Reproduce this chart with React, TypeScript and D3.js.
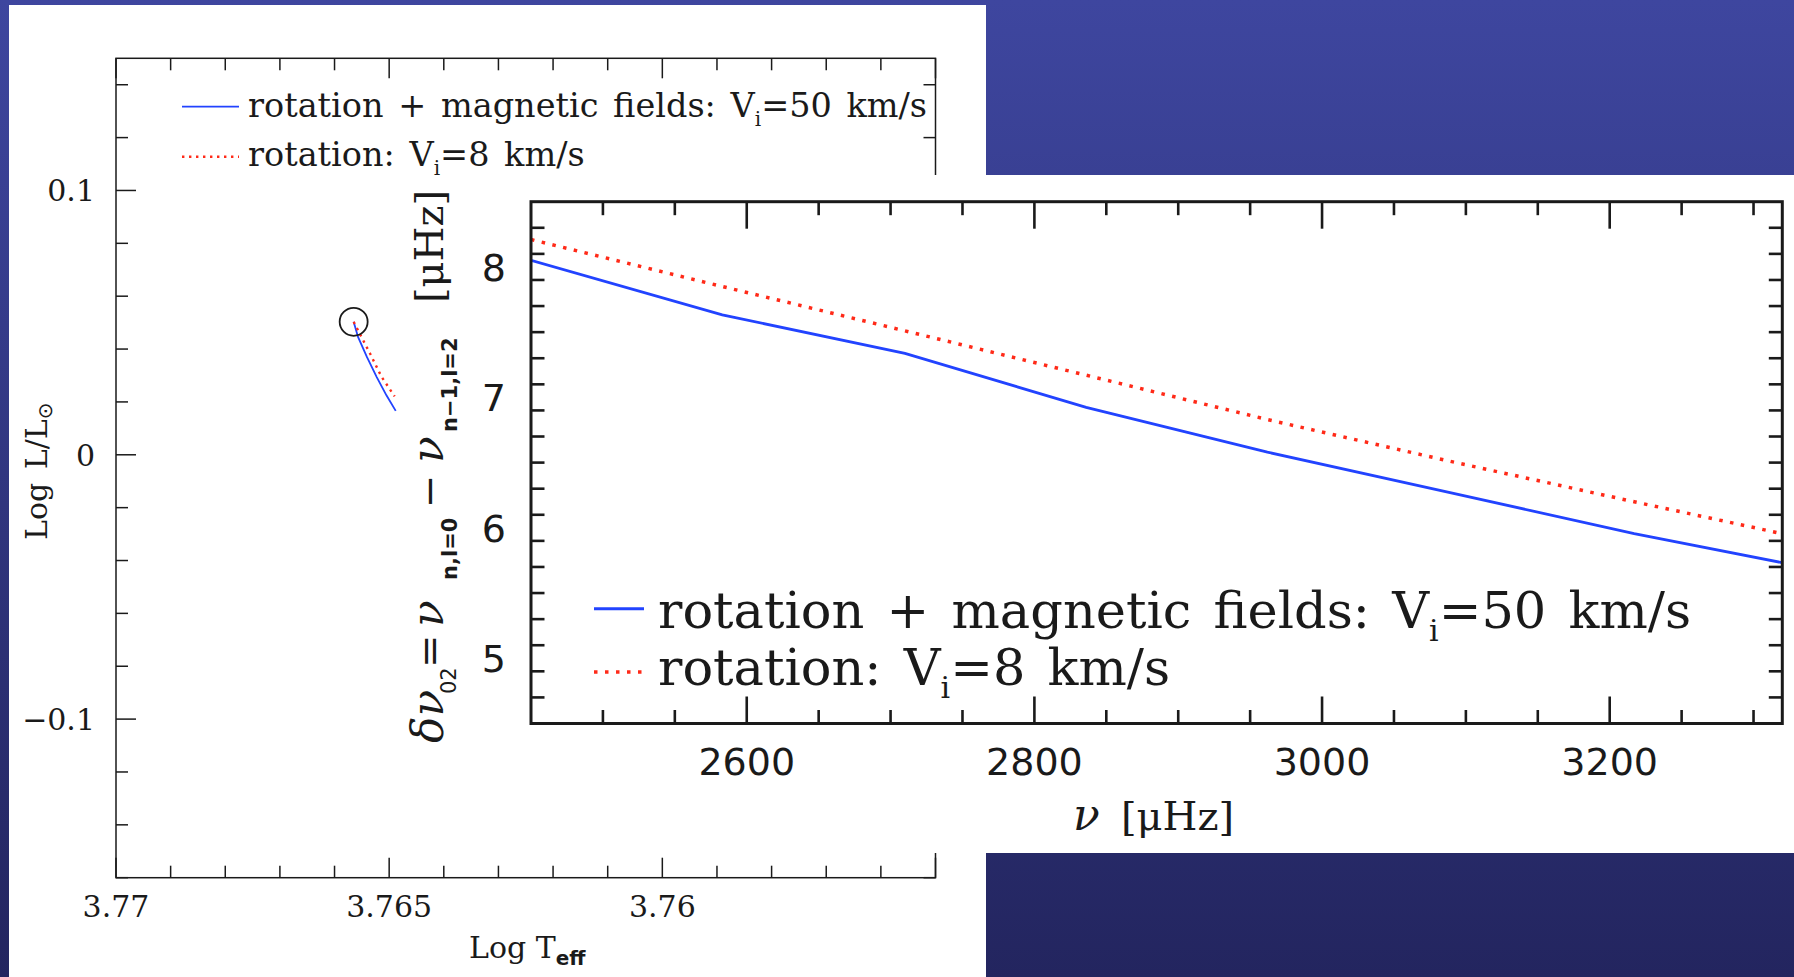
import React from "react";
import * as d3 from "d3";

const W = 1794;
const H = 977;

// HR diagram: evolutionary tracks (log Teff, log L/Lsun)
const hrTeffMag = [3.76565, 3.76557, 3.76541, 3.76523, 3.76505, 3.76488];
const hrLumMag = [0.0503, 0.0446, 0.0371, 0.0295, 0.0225, 0.0166];
const hrTeffRot = [3.76565, 3.76554, 3.76535, 3.76514, 3.7649];
const hrLumRot = [0.0503, 0.0459, 0.0383, 0.0295, 0.0221];
const startModel = [3.76565, 0.0503];

// small separation d02 vs frequency
const freq = [2450, 2583, 2710, 2836, 2962, 3089, 3217, 3320];
const d02Mag = [8.05, 7.633, 7.337, 6.924, 6.58, 6.27, 5.955, 5.733];
const d02Rot = [8.21, 7.85, 7.51, 7.17, 6.83, 6.51, 6.2, 5.955];

const teffMajor = [3.77, 3.765, 3.76];
const teffLabels = ["3.77", "3.765", "3.76"];
const lumMajor = [0.1, 0, -0.1];
const lumLabels = ["0.1", "0", "\u22120.1"];
const nuMajor = [2600, 2800, 3000, 3200];
const d02Major = [5, 6, 7, 8];

const BLUE = "#2243ff";
const RED = "#ff2a18";
const INK = "#1a1a1a";
const SERIF = "DejaVu Serif, serif";
const SANS = "DejaVu Sans, sans-serif";

export default function App() {
  // left (HR) panel
  const xL = d3.scaleLinear().domain([3.77, 3.755]).range([116, 935.5]);
  const yL = d3.scaleLinear().domain([0.15, -0.16]).range([58.3, 877.7]);
  // right panel
  const xR = d3.scaleLinear().domain([2450, 3320]).range([531, 1782.3]);
  const yR = d3.scaleLinear().domain([8.5, 4.5]).range([201.7, 723.5]);

  const magTrack = d3.line<number>()
    .x((d) => xL(d))
    .y((d, i) => yL(hrLumMag[i]))(hrTeffMag);
  const rotTrack = d3.line<number>()
    .x((d) => xL(d))
    .y((d, i) => yL(hrLumRot[i]))(hrTeffRot);

  const magLine = d3.line<number>()
    .x((d) => xR(d))
    .y((d, i) => yR(d02Mag[i]))(freq);
  const rotLine = d3.line<number>()
    .x((d) => xR(d))
    .y((d, i) => yR(d02Rot[i]))(freq);

  const [l0, l1] = xL.range();
  const [t0, t1] = yL.range();
  const [r0, r1] = xR.range();
  const [u0, u1] = yR.range();

  const teffTicks = d3.range(0, 16).map((i) => 3.77 - i * 0.001);
  const lumTicks = d3.range(0, 16).map((i) => +(0.14 - i * 0.02).toFixed(2));
  const nuTicks = d3.range(1, 18).map((i) => 2450 + i * 50);
  const d02Ticks = d3.range(1, 20).map((i) => +(4.5 + i * 0.2).toFixed(1));

  return (
    <svg width={W} height={H} style={{ position: "absolute", left: 0, top: 0 }}>
      <defs>
        <linearGradient id="bg" x1="0" y1="0" x2="0" y2="1">
          <stop offset="0" stopColor="#3e469f" />
          <stop offset="1" stopColor="#23255f" />
        </linearGradient>
        <clipPath id="clipR">
          <rect x={r0} y={u0} width={r1 - r0} height={u1 - u0} />
        </clipPath>
      </defs>
      <rect x={0} y={0} width={W} height={H} fill="url(#bg)" />

      {/* ---------- left panel : HR diagram ---------- */}
      <rect x={9} y={5} width={977} height={H - 5} fill="white" />
      <g stroke={INK} strokeWidth={1.5} fill="none">
        <rect x={l0} y={t0} width={l1 - l0} height={t1 - t0} />
        {teffTicks.map((v, i) => {
          const len = i % 5 === 0 ? 20 : 12;
          return (
            <g key={"tx" + i}>
              <line x1={xL(v)} x2={xL(v)} y1={t1} y2={t1 - len} />
              <line x1={xL(v)} x2={xL(v)} y1={t0} y2={t0 + len} />
            </g>
          );
        })}
        {lumTicks.map((v, i) => {
          const len = lumMajor.includes(v) ? 20 : 12;
          return (
            <g key={"ly" + i}>
              <line x1={l0} x2={l0 + len} y1={yL(v)} y2={yL(v)} />
              <line x1={l1} x2={l1 - len} y1={yL(v)} y2={yL(v)} />
            </g>
          );
        })}
      </g>
      <g fontFamily={SERIF} fontSize={30} fill={INK}>
        {teffMajor.map((v, i) => (
          <text key={"tl" + i} x={xL(v)} y={917} textAnchor="middle">
            {teffLabels[i]}
          </text>
        ))}
        {lumMajor.map((v, i) => (
          <text key={"ll" + i} x={95} y={yL(v)} dy="0.36em" textAnchor="end">
            {lumLabels[i]}
          </text>
        ))}
      </g>
      <text x={469} y={958} fontFamily={SERIF} fontSize={30} fill={INK}>
        Log T
        <tspan fontFamily={SANS} fontWeight="bold" fontSize={20} dy={7}>
          eff
        </tspan>
      </text>
      <text
        transform="translate(47,540) rotate(-90)"
        fontFamily={SERIF}
        fontSize={30}
        fill={INK}
        style={{ wordSpacing: "4px" }}
      >
        Log L/L
        <tspan fontFamily={SANS} fontSize={20} dy={5}>
          {"\u2299"}
        </tspan>
      </text>

      <path d={magTrack || ""} fill="none" stroke={BLUE} strokeWidth={1.8} />
      <path
        d={rotTrack || ""}
        fill="none"
        stroke={RED}
        strokeWidth={2.4}
        strokeDasharray="2.4 4.6"
      />
      <circle
        cx={xL(startModel[0])}
        cy={yL(startModel[1])}
        r={14}
        fill="none"
        stroke={INK}
        strokeWidth={1.8}
      />

      {/* left legend */}
      <line x1={182} x2={239} y1={106.7} y2={106.7} stroke={BLUE} strokeWidth={1.8} />
      <line
        x1={182}
        x2={239}
        y1={156.7}
        y2={156.7}
        stroke={RED}
        strokeWidth={2.4}
        strokeDasharray="2.4 4.6"
      />
      <g fontFamily={SERIF} fontSize={33.5} fill={INK} style={{ wordSpacing: "4px" }}>
        <text x={248} y={116.7}>
          rotation + magnetic fields: V
          <tspan fontSize={20} dy={9}>i</tspan>
          <tspan dy={-9}>=50 km/s</tspan>
        </text>
        <text x={248} y={166}>
          rotation: V
          <tspan fontSize={20} dy={9}>i</tspan>
          <tspan dy={-9}>=8 km/s</tspan>
        </text>
      </g>

      {/* ---------- right panel : small separation ---------- */}
      <rect x={400} y={175} width={W - 400} height={678} fill="white" />
      <g stroke={INK} strokeWidth={2.6} fill="none">
        {nuTicks.map((v, i) => {
          const len = v % 200 === 0 ? 27 : 13.5;
          return (
            <g key={"nx" + i}>
              <line x1={xR(v)} x2={xR(v)} y1={u1} y2={u1 - len} />
              <line x1={xR(v)} x2={xR(v)} y1={u0} y2={u0 + len} />
            </g>
          );
        })}
        {d02Ticks.map((v, i) => {
          const len = Number.isInteger(v) ? 27 : 13.5;
          return (
            <g key={"dy" + i}>
              <line x1={r0} x2={r0 + len} y1={yR(v)} y2={yR(v)} />
              <line x1={r1} x2={r1 - len} y1={yR(v)} y2={yR(v)} />
            </g>
          );
        })}
      </g>
      <g clipPath="url(#clipR)">
        <path d={magLine || ""} fill="none" stroke={BLUE} strokeWidth={2.8} />
        <path
          d={rotLine || ""}
          fill="none"
          stroke={RED}
          strokeWidth={3.5}
          strokeDasharray="3.5 7.5"
        />
      </g>
      <rect x={r0} y={u0} width={r1 - r0} height={u1 - u0} fill="none" stroke={INK} strokeWidth={3} />

      <g fontFamily={SANS} fontSize={38} fill={INK}>
        {nuMajor.map((v) => (
          <text key={"nl" + v} x={xR(v)} y={775} textAnchor="middle">
            {v}
          </text>
        ))}
        {d02Major.map((v) => (
          <text key={"dl" + v} x={506} y={yR(v)} dy="0.36em" textAnchor="end">
            {v}
          </text>
        ))}
      </g>

      {/* x title */}
      <text x={1073} y={830} fontFamily={SERIF} fontSize={40} fill={INK}>
        <tspan fontStyle="italic" fontSize={44}>{"\u03bd"}</tspan>
        <tspan x={1121}>[{"\u03bc"}Hz]</tspan>
      </text>

      {/* y title, rotated */}
      <g transform="translate(443,0) rotate(-90)" fill={INK}>
        <text x={-743} y={0} fontFamily={SERIF} fontSize={44} fontStyle="italic">
          {"\u03b4\u03bd"}
        </text>
        <text x={-694} y={13} fontFamily={SANS} fontSize={21}>
          02
        </text>
        <text x={-668} y={0} fontFamily={SERIF} fontSize={40}>
          =
        </text>
        <text x={-627} y={0} fontFamily={SERIF} fontSize={44} fontStyle="italic">
          {"\u03bd"}
        </text>
        <text x={-580} y={14} fontFamily={SANS} fontWeight="bold" fontSize={21}>
          n,l=0
        </text>
        <text x={-508} y={0} fontFamily={SERIF} fontSize={40}>
          {"\u2212"}
        </text>
        <text x={-463} y={0} fontFamily={SERIF} fontSize={44} fontStyle="italic">
          {"\u03bd"}
        </text>
        <text x={-432} y={14} fontFamily={SANS} fontWeight="bold" fontSize={21}>
          {"n\u22121,l=2"}
        </text>
        <text x={-303} y={0} fontFamily={SERIF} fontSize={40}>
          [{"\u03bc"}Hz]
        </text>
      </g>

      {/* right legend */}
      <line x1={594} x2={644} y1={608.7} y2={608.7} stroke={BLUE} strokeWidth={3} />
      <line
        x1={594}
        x2={644}
        y1={672}
        y2={672}
        stroke={RED}
        strokeWidth={3.5}
        strokeDasharray="3.5 7.5"
      />
      <g fontFamily={SERIF} fontSize={51} fill={INK} style={{ wordSpacing: "6px" }}>
        <text x={658} y={627.7}>
          rotation + magnetic fields: V
          <tspan fontSize={30} dy={13}>i</tspan>
          <tspan dy={-13}>=50 km/s</tspan>
        </text>
        <text x={658} y={685.3}>
          rotation: V
          <tspan fontSize={30} dy={13}>i</tspan>
          <tspan dy={-13}>=8 km/s</tspan>
        </text>
      </g>
    </svg>
  );
}
